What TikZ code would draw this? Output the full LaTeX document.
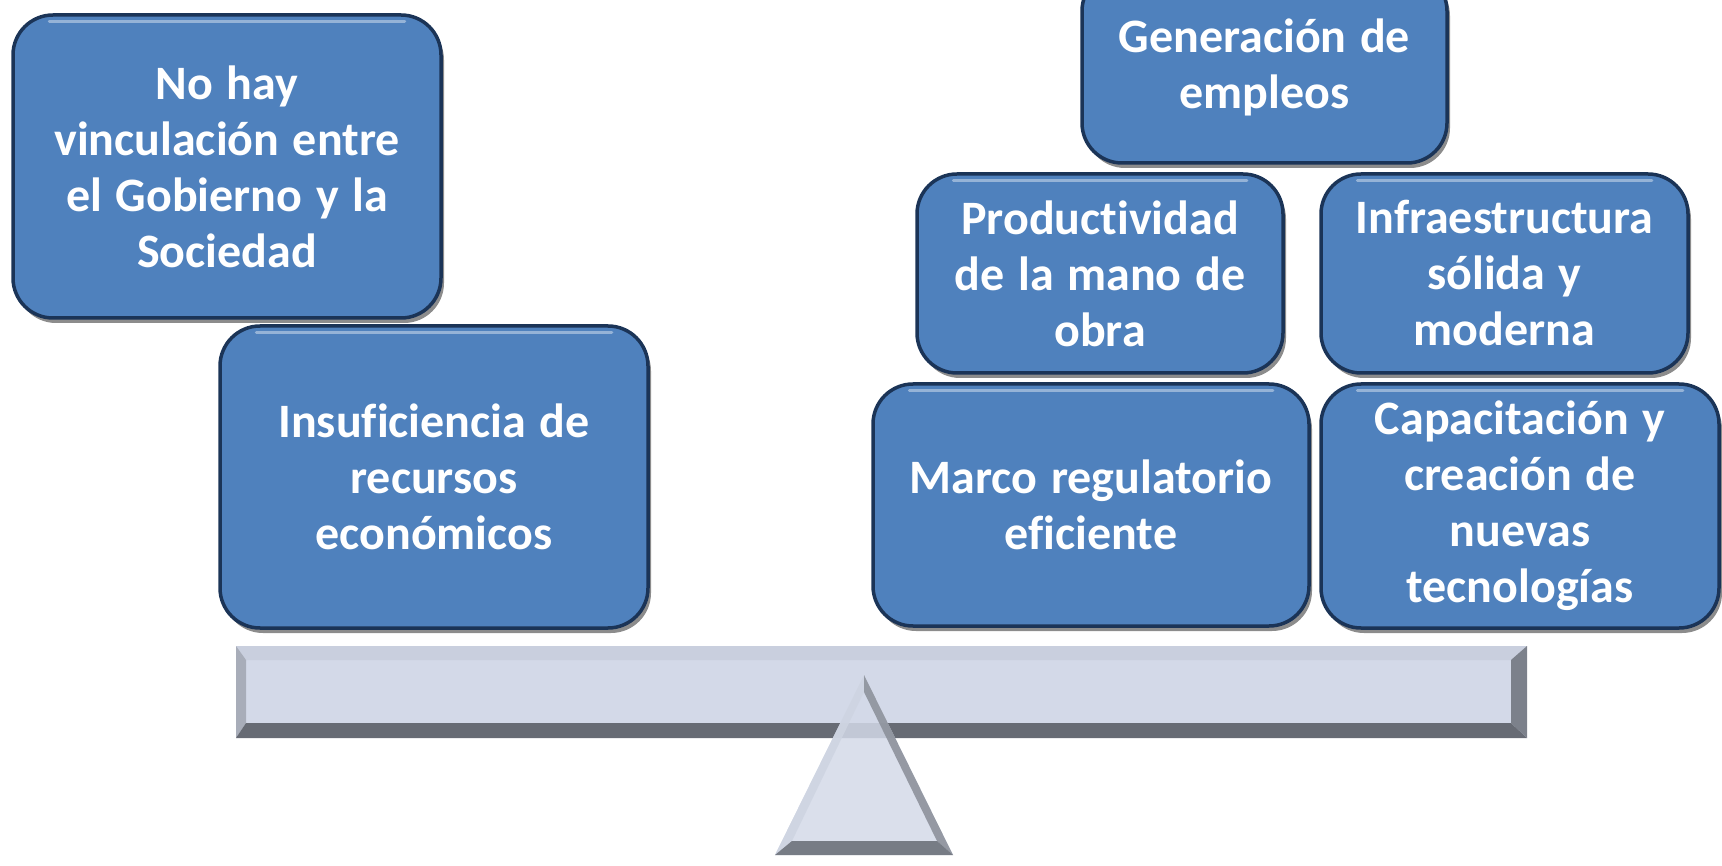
\documentclass[tikz,border=0pt]{standalone}
\usepackage{fontspec}
\setmainfont{Carlito}[Ligatures=NoCommon, WordSpace=1.25]
\usetikzlibrary{shadows}
\definecolor{boxblue}{HTML}{4F81BD}
\definecolor{boxedge}{HTML}{1B3457}
\definecolor{beamface}{HTML}{D3D9E8}
\definecolor{beamtop}{HTML}{C9CFDE}
\definecolor{beamleft}{HTML}{A8ADB9}
\definecolor{beamright}{HTML}{7C818B}
\definecolor{beamdark}{HTML}{676B74}
\begin{document}
\begin{tikzpicture}[x=1pt,y=-1pt,
  box/.style={rounded corners=40pt, fill=boxblue, draw=boxedge, line width=3.5pt,
    text=white, font=\fontsize{48}{56}\selectfont\bfseries, align=center, inner sep=0pt,
    drop shadow={shadow xshift=3pt,shadow yshift=-5pt,opacity=0.45,fill=black}},
  hl/.style={white, opacity=0.4, line width=3pt, line cap=round}]
\useasboundingbox (0,0) rectangle (1722,866);
\clip (0,0) rectangle (1722,866);

% boxes
\node[box, minimum width=428pt, minimum height=303pt] (b1) at (227,166.5)
  {No hay\\vinculación entre\\el Gobierno y la\\Sociedad};
\node[box, minimum width=428pt, minimum height=302pt] (b2) at (434,477)
  {Insuficiencia de\\recursos\\económicos};
\node[box, minimum width=365pt, minimum height=192pt] (gen) at (1264.5,67)
  {Generación de\\empleos};
\node[box, minimum width=366pt, minimum height=199pt] (prod) at (1100,273.5)
  {Productividad\\de la mano de\\obra};
\node[box, minimum width=367pt, minimum height=199pt] (infra) at (1504.5,273.5)
  {Infraestructura\\sólida y\\moderna};
\node[box, minimum width=436pt, minimum height=242pt] (marco) at (1091,505)
  {Marco regulatorio\\eficiente};
\node[box, minimum width=398pt, minimum height=244pt] (capac) at (1520,506)
  {Capacitación y\\creación de\\nuevas\\tecnologías};

\foreach \n in {b1,b2,gen,prod,infra,marco,capac}{
  \draw[hl] ([xshift=38pt,yshift=-8pt]\n.north west) -- ([xshift=-38pt,yshift=-8pt]\n.north east);
}

% beam
\fill[beamface] (236,646) rectangle (1527,738);
\fill[beamtop] (236,646) -- (1527,646) -- (1511,660) -- (246,660) -- cycle;
\fill[beamleft] (236,646) -- (246,660) -- (246,723) -- (236,738) -- cycle;
\fill[beamdark] (236,738) -- (246,723) -- (1511,723) -- (1527,738) -- cycle;
\fill[beamright] (1527,646) -- (1511,660) -- (1511,723) -- (1527,738) -- cycle;

% fulcrum
\begin{scope}[opacity=0.85]
\fill[beamface] (864,675) -- (953,855) -- (775,855) -- cycle;
\fill[beamtop!90!white] (864,675) -- (864,692) -- (792,841) -- (775,855) -- cycle;
\fill[beamright!90!white] (864,675) -- (953,855) -- (937,841) -- (864,692) -- cycle;
\fill[beamdark] (775,855) -- (792,841) -- (937,841) -- (953,855) -- cycle;
\end{scope}
\end{tikzpicture}
\end{document}
